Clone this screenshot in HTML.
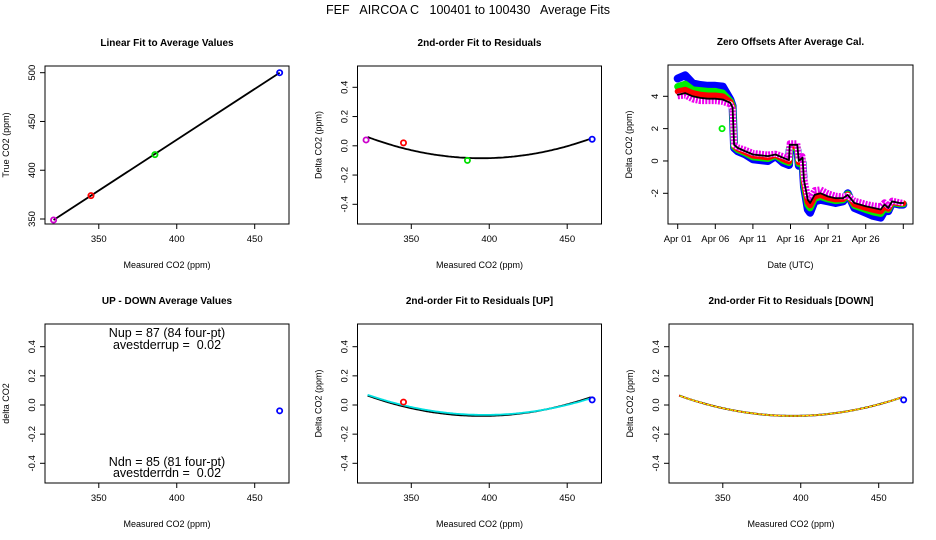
<!DOCTYPE html>
<html><head><meta charset="utf-8"><style>
body{margin:0;background:#fff;}
svg{display:block;font-family:"Liberation Sans",sans-serif;}
text{white-space:pre;}
</style></head><body>
<svg id="c" width="936" height="540" xmlns="http://www.w3.org/2000/svg">
<text x="468" y="14" font-size="12.5" text-anchor="middle" xml:space="preserve">FEF   AIRCOA C   100401 to 100430   Average Fits</text>
</svg>
<script>
// Panel 1: linear fit
const calX = [321, 345, 386, 466];
const calTrue = [349, 374, 416, 500];
const calColors = ['#cc00cc','#ff0000','#00dd00','#0000ff'];
// Panel 2 residuals
const resid = [0.04, 0.02, -0.10, 0.045];
const fitCoef = [395, -0.085, 0.0000272]; // vertex x, vertex y, curvature
const upCoef = [395, -0.075, 0.0000262];
const upCyanCoef = [397, -0.068, 0.0000245];
const dnCoef = [395, -0.075, 0.0000262];
const upX = [345, 466]; const upRes = [0.02, 0.035]; const upCols = ['#ff0000','#0000ff'];
const dnX = [466]; const dnRes = [0.035];
const udX = [466]; const udVal = [-0.04];
const resTicks = [-0.4,-0.2,0.0,0.2,0.4];
const resTickLabels = ['-0.4','-0.2','0.0','0.2','0.4'];
const co2Ticks = [350,400,450];
const trueTicks = [350,400,450,500];
// Panel 3 time series (days since Apr 01)
const tDays = [0,1,2,3,4,5,6,7,7.3,7.5,8,9,10,11,12,13,14,14.8,14.9,15.9,16.1,16.6,16.8,17.3,17.6,18.2,19,20,21,22,22.6,23.5,25,26,27,27.5,28,28.5,29.5,30];
const zBlack = [4.1,4.2,4.0,3.9,3.85,3.85,3.8,3.6,3.3,1.0,0.8,0.6,0.4,0.35,0.3,0.4,0.2,0.05,1.0,1.0,0.0,0.2,-1.2,-2.4,-2.6,-2.1,-2.0,-2.2,-2.3,-2.3,-2.1,-2.6,-2.8,-2.9,-3.0,-2.7,-2.9,-2.5,-2.6,-2.6];
const zBlue = [5.1,5.3,4.8,4.7,4.65,4.65,4.6,3.8,3.4,0.8,0.6,0.4,0.1,0.05,0.0,0.3,-0.1,-0.25,0.7,0.7,-0.3,-0.1,-1.6,-3.0,-3.2,-2.5,-2.4,-2.5,-2.6,-2.5,-2.0,-2.9,-3.2,-3.4,-3.5,-3.1,-3.1,-2.6,-2.7,-2.7];
const zGreen = [4.6,4.75,4.4,4.35,4.3,4.3,4.2,3.7,3.35,0.9,0.7,0.5,0.25,0.2,0.15,0.35,0.05,-0.1,0.85,0.85,-0.15,0.05,-1.4,-2.7,-2.9,-2.3,-2.2,-2.35,-2.45,-2.4,-2.05,-2.75,-3.0,-3.15,-3.25,-2.9,-3.0,-2.55,-2.65,-2.65];
const zRed = [4.3,4.4,4.2,4.1,4.05,4.05,4.0,3.65,3.3,0.95,0.75,0.55,0.33,0.28,0.22,0.38,0.12,-0.03,0.92,0.92,-0.08,0.12,-1.3,-2.55,-2.75,-2.2,-2.1,-2.28,-2.38,-2.35,-2.08,-2.68,-2.9,-3.02,-3.12,-2.8,-2.95,-2.52,-2.62,-2.62];
const zMag = [4.0,4.05,3.8,3.7,3.7,3.7,3.65,3.5,3.2,1.0,0.85,0.7,0.5,0.45,0.4,0.45,0.3,0.15,1.1,1.1,0.1,0.3,-1.0,-2.2,-2.3,-1.8,-1.75,-2.0,-2.15,-2.2,-2.15,-2.45,-2.65,-2.75,-2.8,-2.55,-2.8,-2.45,-2.55,-2.6];
const outlierDay = [5.9]; const outlierVal = [2.0];
const dateTicks = [0,5,10,15,20,25,30];
const dateLabels = ['Apr 01','Apr 06','Apr 11','Apr 16','Apr 21','Apr 26',''];
const zTicks = [-2,0,2,4];

const svg = document.getElementById('c');
const NS = 'http://www.w3.org/2000/svg';
function mk(tag, attrs, parent){const e=document.createElementNS(NS,tag);for(const k in attrs)e.setAttribute(k,attrs[k]);(parent||svg).appendChild(e);return e;}
function scale(d0,d1,r0,r1){return v=>r0+(v-d0)/(d1-d0)*(r1-r0);}

function panel(name, L, T, W, H, title, xlab, ylab){
  const g = mk('g',{});
  
  
  const r = mk('rect',{x:L,y:T,width:W,height:H,fill:'none',stroke:'#000','stroke-width':1},g);
  
  
  const t = mk('text',{x:L+W/2,y:T-20,'font-size':10,'font-weight':'bold','text-anchor':'middle'},g);
  t.textContent = title;
  
  
  const xl = mk('text',{x:L+W/2,y:T+H+44,'font-size':9,'text-anchor':'middle'},g);
  xl.textContent = xlab;
  
  
  const yl = mk('text',{x:0,y:0,'font-size':9,'text-anchor':'middle',transform:`translate(${L-36},${T+H/2}) rotate(-90)`},g);
  yl.textContent = ylab;
  
  
  return g;
}
function xticks(g, sx, ticks, labels, B){
  ticks.forEach((v,i)=>{
    const x=sx(v);
    const l=mk('line',{x1:x,x2:x,y1:B,y2:B+5,stroke:'#000'},g);
    
    
    const t=mk('text',{x:x,y:B+18,'font-size':9.5,'text-anchor':'middle'},g);
    t.textContent=labels[i];
    
    
  });
}
function yticks(g, sy, ticks, labels, L){
  ticks.forEach((v,i)=>{
    const y=sy(v);
    const l=mk('line',{x1:L-5,x2:L,y1:y,y2:y,stroke:'#000'},g);
    
    
    const t=mk('text',{x:0,y:0,'font-size':9.5,'text-anchor':'middle',transform:`translate(${L-10},${y}) rotate(-90)`},g);
    t.textContent=labels[i];
    
    
  });
}
function pt(g,x,y,col,name){
  const c=mk('circle',{cx:x,cy:y,r:2.6,fill:'none',stroke:col,'stroke-width':1.8},g);
  
  
}
function quad(g,sx,sy,coef,col,w,name,dash){
  let d='';
  for(let v=322;v<=465;v+=1){const y=coef[1]+coef[2]*(v-coef[0])*(v-coef[0]);d+=(d?'L':'M')+sx(v).toFixed(1)+','+sy(y).toFixed(1);}
  const p=mk('path',{d:d,fill:'none',stroke:col,'stroke-width':w},g);
  if(dash)p.setAttribute('stroke-dasharray',dash);
  
  
}
const cols=[45,357.5,669], W=244;
const xlim=[315.5,472];
const topT=66, topH=158, botT=324, botH=159;

// Panel 1
{
  const L=cols[0];const g=panel('linear-fit-panel',L,topT,W,topH,'Linear Fit to Average Values','Measured CO2 (ppm)','True CO2 (ppm)');
  const sx=scale(xlim[0],xlim[1],L,L+W), sy=scale(350,500,219,72.7);
  xticks(g,sx,co2Ticks,co2Ticks.map(String),topT+topH);
  yticks(g,sy,trueTicks,trueTicks.map(String),L);
  const ln=mk('line',{x1:sx(calX[0]),y1:sy(calTrue[0]),x2:sx(calX[3]),y2:sy(calTrue[3]),stroke:'#000','stroke-width':1.8},g);
  
  
  calX.forEach((v,i)=>pt(g,sx(v),sy(calTrue[i]),calColors[i],'cal-point'));
}
// Panel 2
{
  const L=cols[1];const g=panel('residual-fit-panel',L,topT,W,topH,'2nd-order Fit to Residuals','Measured CO2 (ppm)','Delta CO2 (ppm)');
  const sx=scale(xlim[0],xlim[1],L,L+W), sy=scale(-0.4,0.4,204.3,87.3);
  xticks(g,sx,co2Ticks,co2Ticks.map(String),topT+topH);
  yticks(g,sy,resTicks,resTickLabels,L);
  quad(g,sx,sy,fitCoef,'#000',1.8,'fit-curve');
  calX.forEach((v,i)=>pt(g,sx(v),sy(resid[i]),calColors[i],'residual-point'));
}
// Panel 3
{
  const L=cols[2]-1;const g=panel('zero-offsets-panel',L,65,245,159,'Zero Offsets After Average Cal.','Date (UTC)','Delta CO2 (ppm)');
  const sx=scale(0,30,677.7,903.3), sy=scale(-2,4,193.3,96.3);
  xticks(g,sx,dateTicks,dateLabels,224);
  yticks(g,sy,zTicks,zTicks.map(String),L);
  const series=[[zBlue,'#0000ff',8,'blue-series'],[zGreen,'#00ee00',7,'green-series'],[zRed,'#ff0000',6,'red-series'],[zMag,'#ee00ee',6,'magenta-series'],[zBlack,'#000',1.8,'black-series']];
  series.forEach(s=>{
    const d=tDays.map((t,i)=>(i?'L':'M')+sx(t).toFixed(1)+','+sy(s[0][i]).toFixed(1)).join('');
    if(s[3]==='magenta-series'){
      const bg=mk('path',{d:d,fill:'none',stroke:'#fff','stroke-width':6,'stroke-linejoin':'round'},g);
      
      
    }
    const p=mk('path',{d:d,fill:'none',stroke:s[1],'stroke-width':s[2],'stroke-linejoin':'round','stroke-linecap':'round'},g);
    if(s[3]==='magenta-series'){p.setAttribute('stroke-dasharray','2 1.2');p.setAttribute('stroke-linecap','butt');}
    
    
  });
  outlierDay.forEach((t,i)=>pt(g,sx(t),sy(outlierVal[i]),'#00ee00','outlier-point'));
}
// Panel 4
{
  const L=cols[0];const g=panel('up-down-panel',L,botT,W,botH,'UP - DOWN Average Values','Measured CO2 (ppm)','delta CO2');
  const sx=scale(xlim[0],xlim[1],L,L+W), sy=scale(-0.4,0.4,463.3,346.7);
  xticks(g,sx,co2Ticks,co2Ticks.map(String),botT+botH);
  yticks(g,sy,resTicks,resTickLabels,L);
  udX.forEach((v,i)=>pt(g,sx(v),sy(udVal[i]),'#0000ff','up-down-point'));
  [['Nup = 87 (84 four-pt)',337],['avestderrup =  0.02',349],['Ndn = 85 (81 four-pt)',466],['avestderrdn =  0.02',477]].forEach(a=>{
    const t=mk('text',{x:L+W/2,y:a[1],'font-size':12.5,'text-anchor':'middle'},g);
    t.setAttribute('xml:space','preserve');
    t.textContent=a[0];
    
    
  });
}
// Panel 5
{
  const L=cols[1];const g=panel('up-residual-panel',L,botT,W,botH,'2nd-order Fit to Residuals [UP]','Measured CO2 (ppm)','Delta CO2 (ppm)');
  const sx=scale(xlim[0],xlim[1],L,L+W), sy=scale(-0.4,0.4,463.3,346.7);
  xticks(g,sx,co2Ticks,co2Ticks.map(String),botT+botH);
  yticks(g,sy,resTicks,resTickLabels,L);
  quad(g,sx,sy,upCoef,'#000',1.8,'fit-curve');
  quad(g,sx,sy,upCyanCoef,'#00e0e0',1.8,'up-fit-curve');
  upX.forEach((v,i)=>pt(g,sx(v),sy(upRes[i]),upCols[i],'up-point'));
}
// Panel 6
{
  const L=cols[2];const g=panel('down-residual-panel',L,botT,W,botH,'2nd-order Fit to Residuals [DOWN]','Measured CO2 (ppm)','Delta CO2 (ppm)');
  const sx=scale(xlim[0],xlim[1],L,L+W), sy=scale(-0.4,0.4,463.3,346.7);
  xticks(g,sx,co2Ticks,co2Ticks.map(String),botT+botH);
  yticks(g,sy,resTicks,resTickLabels,L);
  quad(g,sx,sy,dnCoef,'#000',2,'fit-curve');
  quad(g,sx,sy,dnCoef,'#ffee00',1.4,'down-fit-curve');
  quad(g,sx,sy,dnCoef,'#ff2200',1.4,'down-fit-dots','1 3');
  dnX.forEach((v,i)=>pt(g,sx(v),sy(dnRes[i]),'#0000ff','down-point'));
}
</script>
</body></html>
